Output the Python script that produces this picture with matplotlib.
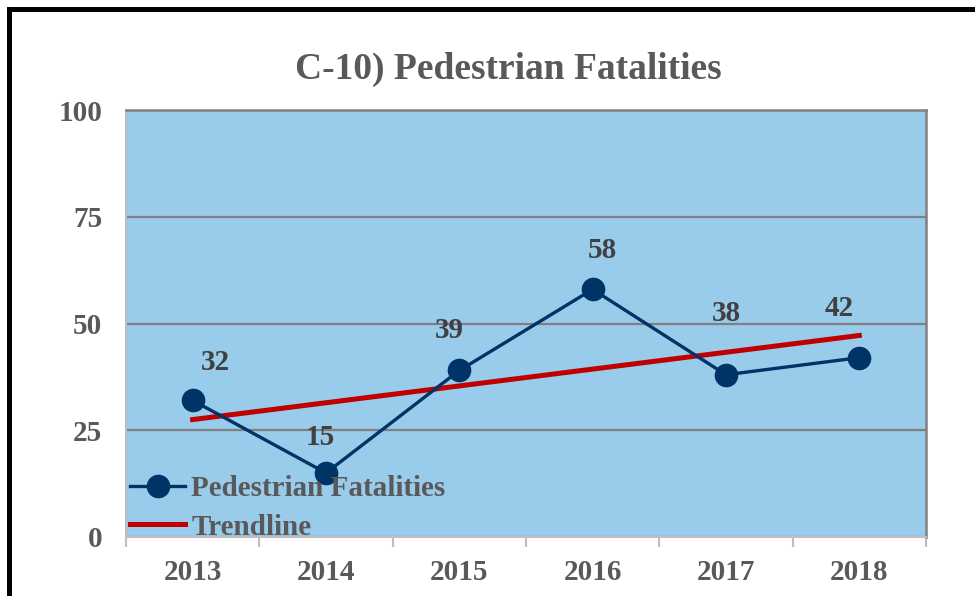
import matplotlib.pyplot as plt
from matplotlib.lines import Line2D
import numpy as np

years = ['2013', '2014', '2015', '2016', '2017', '2018']
fatalities = [32, 15, 39, 58, 38, 42]
trend_ends = [27.5, 47.2]   # trendline read at 2013 and 2018
yticks = [0, 25, 50, 75, 100]

# label offsets in pixels (placed by hand in the original)
label_offsets = [(23, 38), (-6, 35), (-10, 40), (10, 39), (0, 61), (-20, 49)]

plt.rcParams['font.family'] = ['Liberation Serif', 'DejaVu Serif']
plt.rcParams['font.weight'] = 'bold'
grey = '#595959'
navy = '#003466'
fs = 21

fig = plt.figure(figsize=(9.75, 5.96), dpi=100)
ax = fig.add_axes([0.1292, 0.0990, 0.8205, 0.7164])
ax.set_facecolor('#99CBEB')

x = np.arange(len(years))
ax.plot(x, fatalities, color=navy, lw=2.4, marker='o', ms=16,
        label='Pedestrian Fatalities', zorder=4)
ax.plot([x[0], x[-1]], trend_ends, color='#C00000', lw=3.6,
        label='Trendline', zorder=3)

for xi, v, (dx, dy) in zip(x, fatalities, label_offsets):
    ax.annotate(str(v), (xi, v), xytext=(dx, dy), textcoords='offset pixels',
                ha='center', va='center', fontsize=fs, color='#404040',
                fontweight='bold')

ax.set_xlim(-0.5, len(years) - 0.5)
ax.set_ylim(0, 100)
ax.set_yticks(yticks)
ax.set_yticklabels([str(t) for t in yticks])
ax.set_xticks(x)
ax.set_xticklabels(years)
ax.set_xticks(np.arange(-0.5, len(years)), minor=True)
ax.tick_params(axis='y', length=0, pad=17, labelsize=fs, labelcolor=grey)
ax.tick_params(axis='x', which='major', length=0, pad=16, labelsize=fs,
               labelcolor=grey)
ax.tick_params(axis='x', which='minor', length=7, width=1.5, color='#BFBFBF')

ax.grid(axis='y', color='#808080', lw=1.6, zorder=1)
ax.set_axisbelow(True)
for side in ['left', 'bottom']:
    ax.spines[side].set_color('#BFBFBF')
    ax.spines[side].set_linewidth(1.5)
for side in ['top', 'right']:
    ax.spines[side].set_color('#808080')
    ax.spines[side].set_linewidth(1.8)

leg = ax.legend(loc='center left', bbox_to_anchor=(0.005, 0.068),
                frameon=False, fontsize=fs, handlelength=1.9,
                handletextpad=0.2, labelspacing=0.39, borderpad=0,
                borderaxespad=0)
for t in leg.get_texts():
    t.set_color(grey)

fig.text(0.521, 0.883, 'C-10) Pedestrian Fatalities', ha='center',
         va='center', fontsize=27, color=grey, fontweight='bold')

# black frame of the surrounding box
fig.add_artist(Line2D([0.0097, 0.0097], [0, 0.9857], color='black', lw=3.6))
fig.add_artist(Line2D([0.0097, 1.0], [0.9857, 0.9857], color='black', lw=3.6))

fig.savefig('out.png', dpi=100)
